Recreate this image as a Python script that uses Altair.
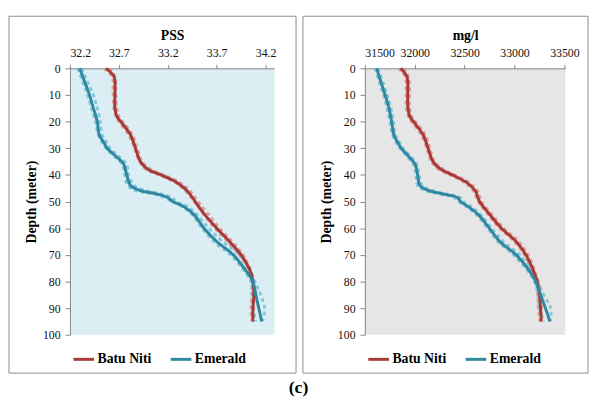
import altair as alt
import pandas as pd

# ---------------- data ----------------
depth_bn = [0, 3, 5, 10, 15, 18, 20, 25, 30, 35, 38, 40, 43, 46, 50, 55, 60, 65, 70, 75, 78, 80, 85, 90, 95]
depth_em = [0, 5, 10, 15, 20, 25, 28, 30, 33, 36, 40, 44, 46, 47, 48.5, 50, 52, 55, 60, 65, 70, 75, 80, 85, 90, 95]

# Salinity (PSS)
pss_bn = [32.57, 32.65, 32.66, 32.66, 32.66, 32.68, 32.72, 32.82, 32.87, 32.92, 33.00, 33.13, 33.30, 33.40, 33.48,
          33.58, 33.70, 33.83, 33.95, 34.03, 34.06, 34.07, 34.08, 34.07, 34.07]
pss_bn_d1 = [32.55, 32.63, 32.64, 32.64, 32.65, 32.67, 32.70, 32.80, 32.86, 32.91, 32.98, 33.11, 33.28, 33.38, 33.47,
             33.57, 33.68, 33.81, 33.93, 34.02, 34.05, 34.06, 34.06, 34.05, 34.06]
pss_bn_d2 = [32.60, 32.66, 32.67, 32.67, 32.68, 32.70, 32.74, 32.84, 32.89, 32.94, 33.03, 33.16, 33.33, 33.43, 33.51,
             33.62, 33.73, 33.86, 33.97, 34.04, 34.07, 34.08, 34.08, 34.08, 34.07]
pss_em = [32.30, 32.35, 32.40, 32.44, 32.48, 32.50, 32.55, 32.58, 32.67, 32.75, 32.78, 32.82, 32.93, 33.07, 33.20,
          33.25, 33.37, 33.47, 33.57, 33.70, 33.87, 33.98, 34.07, 34.10, 34.13, 34.16]
pss_em_d1 = [32.28, 32.33, 32.38, 32.42, 32.46, 32.49, 32.53, 32.57, 32.65, 32.73, 32.76, 32.79, 32.88, 33.03, 33.17,
             33.24, 33.35, 33.45, 33.55, 33.67, 33.84, 33.96, 34.05, 34.06, 34.07, 34.10]
pss_em_d2 = [32.32, 32.38, 32.44, 32.48, 32.51, 32.53, 32.58, 32.61, 32.70, 32.78, 32.80, 32.86, 32.99, 33.12, 33.24,
             33.29, 33.41, 33.50, 33.62, 33.76, 33.93, 34.03, 34.09, 34.15, 34.19, 34.17]

# Salinity (mg/l)
mg_bn = [31860, 31920, 31930, 31930, 31932, 31950, 31987, 32085, 32134, 32183, 32265, 32379, 32526, 32607, 32650,
         32754, 32869, 33016, 33114, 33179, 33210, 33228, 33251, 33261, 33267]
mg_bn_d1 = [31838, 31903, 31913, 31913, 31916, 31933, 31968, 32066, 32118, 32168, 32243, 32358, 32503, 32588, 32636,
            32738, 32848, 32998, 33098, 33166, 33198, 33216, 33233, 33238, 33255]
mg_bn_d2 = [31887, 31937, 31947, 31947, 31950, 31970, 32007, 32107, 32152, 32200, 32292, 32402, 32550, 32630, 32670,
            32778, 32894, 33042, 33137, 33194, 33222, 33240, 33260, 33270, 33270]
mg_em = [31618, 31660, 31703, 31742, 31768, 31791, 31833, 31866, 31938, 32003, 32029, 32052, 32150, 32265, 32428,
         32460, 32540, 32640, 32748, 32852, 33016, 33130, 33212, 33261, 33310, 33355]
mg_em_d1 = [31603, 31643, 31686, 31723, 31750, 31776, 31816, 31850, 31920, 31986, 32010, 32028, 32108, 32226, 32393,
            32438, 32518, 32620, 32728, 32833, 32988, 33108, 33198, 33233, 33248, 33300]
mg_em_d2 = [31632, 31680, 31724, 31762, 31787, 31807, 31850, 31884, 31957, 32022, 32044, 32077, 32192, 32302, 32457,
            32487, 32567, 32662, 32772, 32887, 33052, 33162, 33232, 33292, 33362, 33360]

series_names = ["Batu Niti", "Emerald"]
solid_colors = ["#A63A36", "#2F87A0"]
dash_colors = ["#E0918C", "#74C0D6"]

pss_ticks = [32.2, 32.7, 33.2, 33.7, 34.2]
mg_ticks = [31500, 32000, 32500, 33000, 33500]
depth_ticks = [0, 10, 20, 30, 40, 50, 60, 70, 80, 90, 100]

FONT = "Liberation Serif"


def build(bn, bn1, bn2, em, em1, em2):
    rows = []
    for name, depths, lines in [("Batu Niti", depth_bn, [("solid", bn), ("d1", bn1), ("d2", bn2)]),
                                ("Emerald", depth_em, [("solid", em), ("d1", em1), ("d2", em2)])]:
        for kind, vals in lines:
            for d, v in zip(depths, vals):
                rows.append({"series": name, "dseries": "d " + name, "kind": kind, "line": name + kind,
                             "depth": d, "value": v})
    return pd.DataFrame(rows)


def panel(df, xtitle, domain, ticks, fmt, bg, width, box):
    x = alt.X("value:Q", scale=alt.Scale(domain=domain, nice=False, zero=False),
              axis=alt.Axis(orient="top", values=ticks, format=fmt, title=xtitle,
                            tickSize=4, labelPadding=5, titlePadding=4))
    y = alt.Y("depth:Q", scale=alt.Scale(domain=[0, 100], reverse=True, nice=False, zero=False),
              axis=alt.Axis(values=depth_ticks, title="Depth (meter)", tickSize=5, labelPadding=5,
                            titlePadding=4))
    base = alt.Chart(df)
    dashed = base.transform_filter(alt.datum.kind != "solid").mark_line(
        strokeDash=[4, 3], strokeWidth=2.8, interpolate="catmull-rom", opacity=0.85
    ).encode(
        x=x, y=y,
        stroke=alt.Stroke("dseries:N", scale=alt.Scale(domain=["d Batu Niti", "d Emerald"], range=dash_colors),
                          legend=None),
        detail="line:N",
        order="depth:Q",
    )
    solid = base.transform_filter(alt.datum.kind == "solid").mark_line(
        strokeWidth=3, interpolate="catmull-rom"
    ).encode(
        x=x, y=y,
        color=alt.Color("series:N", scale=alt.Scale(domain=series_names, range=solid_colors),
                        legend=alt.Legend(orient="none", legendX=2, legendY=284, direction="horizontal",
                                          columns=2, title=None, symbolType="stroke", symbolSize=441,
                                          symbolStrokeWidth=3, labelFont=FONT, labelFontSize=14,
                                          labelFontWeight="bold", labelColor="black", columnPadding=13,
                                          labelOffset=2, padding=0)),
        order="depth:Q",
    )
    frame = alt.Chart(pd.DataFrame({"a": [0]})).mark_rect(
        filled=False, stroke="#8C8C8C", strokeWidth=1
    ).encode(
        x=alt.value(box[0]), x2=alt.value(box[1]), y=alt.value(box[2]), y2=alt.value(box[3])
    )
    return alt.layer(dashed, solid, frame).properties(
        width=width, height=271, view=alt.ViewBackground(fill=bg, strokeWidth=0)
    )


df_pss = build(pss_bn, pss_bn_d1, pss_bn_d2, pss_em, pss_em_d1, pss_em_d2)
df_mg = build(mg_bn, mg_bn_d1, mg_bn_d2, mg_em, mg_em_d1, mg_em_d2)

left = panel(df_pss, "PSS", [32.2, 34.29], pss_ticks, ".1f", "#DAEEF4", 208, (-62, 230, -53, 310))
right = panel(df_mg, "mg/l", [31500, 33510], mg_ticks, "d", "#E6E6E6", 204, (-63, 227, -53, 310))

chart = alt.hconcat(left, right, spacing=5).resolve_scale(
    x="independent", color="independent", stroke="independent"
).resolve_legend(color="independent", stroke="independent").properties(
    padding={"left": 0, "top": 4, "right": 0, "bottom": 0},
    title=alt.TitleParams("(c)", orient="bottom", anchor="middle", fontSize=18, font=FONT,
                          fontWeight="bold", color="black", offset=6),
).configure_axis(
    labelFont=FONT, labelFontSize=12, labelColor="#111", titleFont=FONT, titleFontSize=14,
    titleFontWeight="bold", titleColor="black", domainColor="#868686", tickColor="#868686", grid=False
).configure_view(strokeWidth=0)

chart.save("out.html", embed_options={"renderer": "svg", "actions": False})
